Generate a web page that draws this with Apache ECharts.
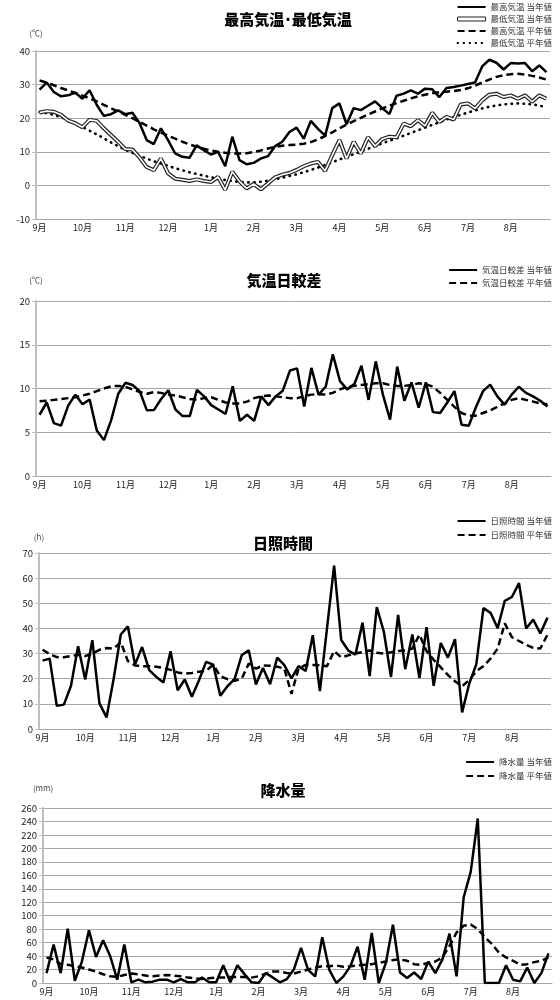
<!DOCTYPE html>
<html>
<head>
<meta charset="utf-8">
<script src="https://cdn.jsdelivr.net/npm/echarts@6/dist/echarts.min.js"></script>
<style>
  html, body { margin: 0; padding: 0; background: #fff; }
  #chart { width: 560px; height: 1000px; }
</style>
</head>
<body>
<div id="chart"></div>
<script>
// 半旬ごと (1か月6区分 × 12か月)
const months = ['9月', '10月', '11月', '12月', '1月', '2月', '3月', '4月', '5月', '6月', '7月', '8月'];
const periods = months.flatMap(m => ['1', '2', '3', '4', '5', '6'].map(k => m + '第' + k + '半旬'));

// 最高気温・最低気温 (℃)
const tmaxNow = [28.5, 30.6, 27.8, 26.5, 26.8, 27.6, 25.8, 28.3, 24.0, 20.7, 21.2, 22.3,
  21.2, 21.6, 18.6, 13.5, 12.3, 17.0, 13.5, 9.5, 8.5, 8.2, 11.9, 10.5,
  9.2, 10.0, 5.7, 14.5, 7.5, 6.3, 6.7, 8.0, 8.7, 11.7, 13.0, 15.9,
  17.2, 13.9, 19.2, 16.8, 14.8, 23.0, 24.4, 18.2, 23.0, 22.4, 23.7, 25.0,
  23.0, 21.2, 26.7, 27.3, 28.3, 27.3, 28.8, 28.6, 26.3, 29.0, 29.3, 29.7,
  30.2, 30.6, 35.4, 37.4, 36.5, 34.5, 36.4, 36.3, 36.4, 34.0, 35.7, 33.7];
const tminNow = [21.7, 22.1, 21.9, 21.0, 19.3, 18.5, 17.3, 19.5, 19.2, 17.0, 15.0, 13.0,
  10.8, 10.7, 8.3, 5.5, 4.5, 8.0, 3.6, 2.0, 1.7, 1.3, 1.8, 1.3,
  1.0, 2.5, -1.3, 4.1, 1.2, -0.9, 0.4, -1.2, 0.6, 2.4, 3.2, 3.7,
  4.6, 5.7, 6.5, 7.0, 4.3, 9.0, 13.5, 8.0, 13.0, 9.5, 14.3, 11.7,
  13.8, 14.5, 14.3, 18.4, 17.6, 19.4, 17.7, 21.6, 18.9, 20.4, 19.6, 24.1,
  24.4, 22.9, 25.3, 27.0, 27.3, 26.3, 26.8, 25.8, 26.8, 24.9, 26.8, 25.8];
const tmaxNormal = [31.2, 30.6, 29.8, 29.0, 28.3, 27.5, 26.7, 25.9, 25.0, 24.0, 23.0, 22.0,
  21.0, 20.0, 18.9, 17.8, 16.7, 15.7, 14.8, 13.9, 13.0, 12.2, 11.5, 10.9,
  10.4, 10.0, 9.7, 9.5, 9.5, 9.6, 9.9, 10.4, 11.0, 11.5, 11.8, 12.0,
  12.1, 12.4, 12.9, 13.7, 14.7, 15.8, 17.0, 18.1, 19.1, 20.1, 21.1, 22.0,
  22.9, 23.7, 24.5, 25.2, 25.9, 26.5, 27.0, 27.4, 27.7, 27.9, 28.1, 28.4,
  28.9, 29.7, 30.6, 31.5, 32.3, 32.8, 33.1, 33.2, 33.0, 32.6, 32.1, 31.5];
const tminNormal = [21.8, 21.5, 21.0, 20.3, 19.5, 18.5, 17.4, 16.3, 15.2, 14.0, 12.8, 11.7,
  10.6, 9.7, 8.8, 8.0, 7.2, 6.5, 5.8, 5.1, 4.5, 3.9, 3.4, 2.9,
  2.4, 2.0, 1.6, 1.3, 1.0, 0.9, 0.9, 1.1, 1.4, 1.8, 2.3, 2.8,
  3.3, 3.9, 4.6, 5.3, 6.1, 6.9, 7.7, 8.5, 9.3, 10.1, 10.9, 11.7,
  12.5, 13.3, 14.0, 14.8, 15.6, 16.4, 17.2, 18.0, 18.8, 19.6, 20.3, 21.0,
  21.7, 22.3, 22.9, 23.4, 23.8, 24.1, 24.3, 24.4, 24.3, 24.1, 23.8, 23.2];

// 気温日較差 (℃)
const rangeNow = [7.0, 8.4, 6.05, 5.75, 8.05, 9.3, 8.2, 8.75, 5.2, 4.1, 6.35, 9.4,
  10.65, 10.4, 9.7, 7.5, 7.55, 8.8, 9.8, 7.6, 6.85, 6.85, 9.85, 9.1,
  8.1, 7.6, 7.1, 10.25, 6.3, 7.0, 6.3, 9.1, 8.1, 9.1, 9.75, 12.05,
  12.3, 7.95, 12.35, 9.3, 10.2, 13.9, 10.85, 9.9, 10.5, 12.6, 8.7, 13.1,
  9.3, 6.45, 12.5, 8.6, 10.7, 7.8, 10.7, 7.3, 7.2, 8.4, 9.7, 5.85,
  5.75, 7.85, 9.7, 10.45, 9.1, 8.15, 9.3, 10.2, 9.5, 9.1, 8.6, 7.95];
const rangeNormal = [8.55, 8.6, 8.7, 8.8, 8.9, 9.0, 9.2, 9.4, 9.7, 10.0, 10.25, 10.3,
  10.2, 9.9, 9.6, 9.4, 9.6, 9.5, 9.3, 9.2, 9.0, 8.8, 8.7, 8.9,
  9.0, 8.7, 8.4, 8.3, 8.3, 8.5, 8.9, 9.1, 9.2, 9.1, 9.0, 8.9,
  8.9, 9.1, 9.3, 9.35, 9.3, 9.5, 9.9, 10.2, 10.3, 10.4, 10.5, 10.6,
  10.6, 10.4, 10.3, 10.3, 10.4, 10.6, 10.5, 10.2, 9.5, 8.7, 7.9, 7.2,
  6.9, 6.9, 7.2, 7.5, 7.9, 8.3, 8.7, 8.9, 8.7, 8.5, 8.3, 8.2];

// 日照時間 (h)
const sunNow = [27.2, 28.0, 9.2, 9.7, 17.2, 32.9, 19.7, 35.3, 10.2, 4.6, 20.0, 37.6,
  40.8, 25.6, 32.6, 23.4, 20.7, 18.5, 30.9, 15.4, 19.7, 12.8, 19.4, 26.7,
  25.6, 13.2, 17.0, 19.8, 29.3, 31.3, 17.7, 24.3, 17.8, 28.4, 25.4, 20.1,
  25.0, 23.1, 37.3, 15.1, 40.0, 65.0, 35.4, 31.2, 29.6, 42.3, 21.0, 48.5,
  38.6, 20.7, 45.4, 23.8, 37.6, 20.3, 40.5, 17.2, 34.2, 28.4, 35.7, 6.6,
  18.0, 25.8, 48.1, 46.2, 40.1, 51.0, 52.5, 58.0, 40.0, 43.5, 38.0, 44.3];
const sunNormal = [31.5, 29.8, 28.6, 28.5, 29.0, 29.5, 29.0, 30.0, 31.5, 32.2, 32.0, 34.5,
  27.0, 25.3, 25.0, 25.0, 24.8, 24.3, 23.5, 22.5, 22.0, 22.3, 22.8, 23.2,
  25.5, 21.0, 19.8, 19.2, 20.0, 26.0, 24.0, 25.3, 25.2, 24.8, 24.0, 14.0,
  24.0, 25.5, 25.5, 25.3, 25.0, 31.0, 28.5, 29.3, 30.0, 30.6, 31.2, 30.3,
  30.0, 30.5, 31.0, 31.2, 32.0, 37.5, 31.0, 27.5, 24.5, 21.5, 19.0, 17.0,
  19.5, 23.0, 25.0, 28.0, 32.0, 42.0, 36.5, 35.0, 33.5, 32.3, 32.0, 37.5];

// 降水量 (mm)
const rainNow = [14.7, 57, 14.7, 80.6, 3.4, 31.8, 78.2, 38.6, 63.5, 40.1, 4.9, 57.2,
  1, 4.9, 1, 2, 5, 5, 1, 5.9, 1, 1, 8.3, 1,
  1, 26.4, 1, 26.4, 13.2, 1, 0, 14.7, 8.3, 1, 5.9, 20.5,
  52.3, 19.6, 9.8, 68, 19.6, 0, 9.8, 25.4, 53.8, 4.9, 74.3, 0,
  30, 86.5, 15.6, 7.3, 15.6, 5.9, 31.8, 14.7, 35.2, 73.3, 9.8, 127,
  165, 244.4, 0, 0, 0, 26.4, 4.9, 2.4, 23, 0, 14.7, 44];
const rainNormal = [38, 35, 28, 27, 25, 23, 20, 17, 13, 10, 9, 12,
  14, 13, 11, 10, 11, 12, 11, 10, 8, 7, 6, 7,
  8, 8, 9, 9, 9, 8, 10, 14, 17, 17, 15, 14,
  17, 20, 23, 25, 25, 26, 24, 25, 26, 27, 28, 30,
  32, 34, 35, 33, 28, 27, 30, 32, 38, 55, 75, 85,
  87, 80, 68, 58, 45, 38, 33, 27, 28, 31, 33, 38];

const FONT = '"Noto Sans CJK JP", "Noto Sans", sans-serif';
const GRID_COLOR = '#a6a6a6';
const AXIS_COLOR = '#bfbfbf';

const panels = [
  { title: '最高気温･最低気温', titleX: 288, titleTop: 12, unit: '(℃)', unitGap: 14,
    grid: { left: 36, right: 10, top: 51, height: 168 }, min: -10, max: 40, interval: 10,
    legendTop: 2, legendGap: 2 },
  { title: '気温日較差', titleX: 284, titleTop: 273, unit: '(℃)', unitGap: 17,
    grid: { left: 36, right: 9, top: 301, height: 175 }, min: 0, max: 20, interval: 5,
    legendTop: 265, legendGap: 3 },
  { title: '日照時間', titleX: 283, titleTop: 536, unit: '(h)', unitGap: 12,
    grid: { left: 39, right: 9, top: 553, height: 176 }, min: 0, max: 70, interval: 10,
    legendTop: 516, legendGap: 4 },
  { title: '降水量', titleX: 283, titleTop: 783, unit: '(mm)', unitGap: 16,
    grid: { left: 43, right: 8, top: 808, height: 175 }, min: 0, max: 260, interval: 20,
    legendTop: 757, legendGap: 4 }
];

const solid = { color: '#000', width: 2.5, type: 'solid' };
const dashed = { color: '#000', width: 2.5, type: [7, 4] };
const dotted = { color: '#000', width: 2.6, type: [0.5, 5.5], cap: 'round' };

function line(name, data, idx, style, z) {
  return {
    name: name, type: 'line', data: data,
    xAxisIndex: idx, yAxisIndex: idx,
    symbol: 'none', lineStyle: style, itemStyle: { color: style.color },
    z: z || 2, silent: true
  };
}

const series = [
  line('最高気温 平年値', tmaxNormal, 0, dashed, 2),
  line('最低気温 平年値', tminNormal, 0, dotted, 2),
  line('最低気温 当年値', tminNow, 0, { color: '#222', width: 4, type: 'solid' }, 3),
  line('最低気温 当年値 内側', tminNow, 0, { color: '#fff', width: 1.6, type: 'solid' }, 4),
  line('最高気温 当年値', tmaxNow, 0, solid, 5),
  line('気温日較差 平年値', rangeNormal, 1, dashed, 2),
  line('気温日較差 当年値', rangeNow, 1, solid, 3),
  line('日照時間 平年値', sunNormal, 2, dashed, 2),
  line('日照時間 当年値', sunNow, 2, solid, 3),
  line('降水量 平年値', rainNormal, 3, dashed, 2),
  line('降水量 当年値', rainNow, 3, solid, 3)
];

const legendNames = [
  ['最高気温 当年値', '最低気温 当年値', '最高気温 平年値', '最低気温 平年値'],
  ['気温日較差 当年値', '気温日較差 平年値'],
  ['日照時間 当年値', '日照時間 平年値'],
  ['降水量 当年値', '降水量 平年値']
];

const option = {
  animation: false,
  backgroundColor: '#fff',
  textStyle: { fontFamily: FONT },
  title: panels.map(p => ({
    text: p.title, left: p.titleX, top: p.titleTop, textAlign: 'center', padding: 0,
    textStyle: { fontFamily: FONT, fontSize: 15, fontWeight: 900, color: '#000' }
  })),
  legend: panels.map((p, i) => ({
    orient: 'vertical', right: 8, top: p.legendTop, padding: 0,
    itemWidth: 28, itemHeight: 10, itemGap: p.legendGap,
    itemStyle: { opacity: 0 },
    textStyle: { fontFamily: FONT, fontSize: 8.5, color: '#333', lineHeight: 10 },
    selectedMode: false,
    data: legendNames[i].map(n => n === '最低気温 当年値'
      ? { name: n, icon: 'path://M0,0L28,0L28,4L0,4Z',
          itemStyle: { opacity: 1, color: '#fff', borderColor: '#222', borderWidth: 1 } }
      : n)
  })),
  grid: panels.map(p => Object.assign({}, p.grid)),
  xAxis: panels.map((p, i) => ({
    type: 'category', gridIndex: i, data: periods, boundaryGap: true,
    axisLine: { onZero: false, lineStyle: { color: GRID_COLOR, width: 1 } },
    axisTick: { interval: 5, length: 4, lineStyle: { color: GRID_COLOR } },
    axisLabel: {
      interval: 5, margin: 4, fontSize: 9, color: '#222', fontFamily: FONT,
      formatter: (v, idx) => months[Math.floor(idx / 6)]
    },
    splitLine: { show: false }
  })),
  yAxis: panels.map((p, i) => ({
    type: 'value', gridIndex: i, min: p.min, max: p.max, interval: p.interval,
    name: p.unit, nameLocation: 'end', nameGap: p.unitGap,
    nameTextStyle: { fontSize: 8, color: '#444', fontFamily: FONT, align: 'center' },
    axisLine: { show: true, lineStyle: { color: AXIS_COLOR, width: 2 } },
    axisTick: { show: true, length: 4, lineStyle: { color: AXIS_COLOR } },
    axisLabel: { fontSize: 9.5, color: '#222', margin: 6, fontFamily: FONT },
    splitLine: { lineStyle: { color: GRID_COLOR, width: 1 } }
  })),
  series: series
};

const chart = echarts.init(document.getElementById('chart'), null, { renderer: 'canvas' });
chart.setOption(option);
</script>
</body>
</html>
